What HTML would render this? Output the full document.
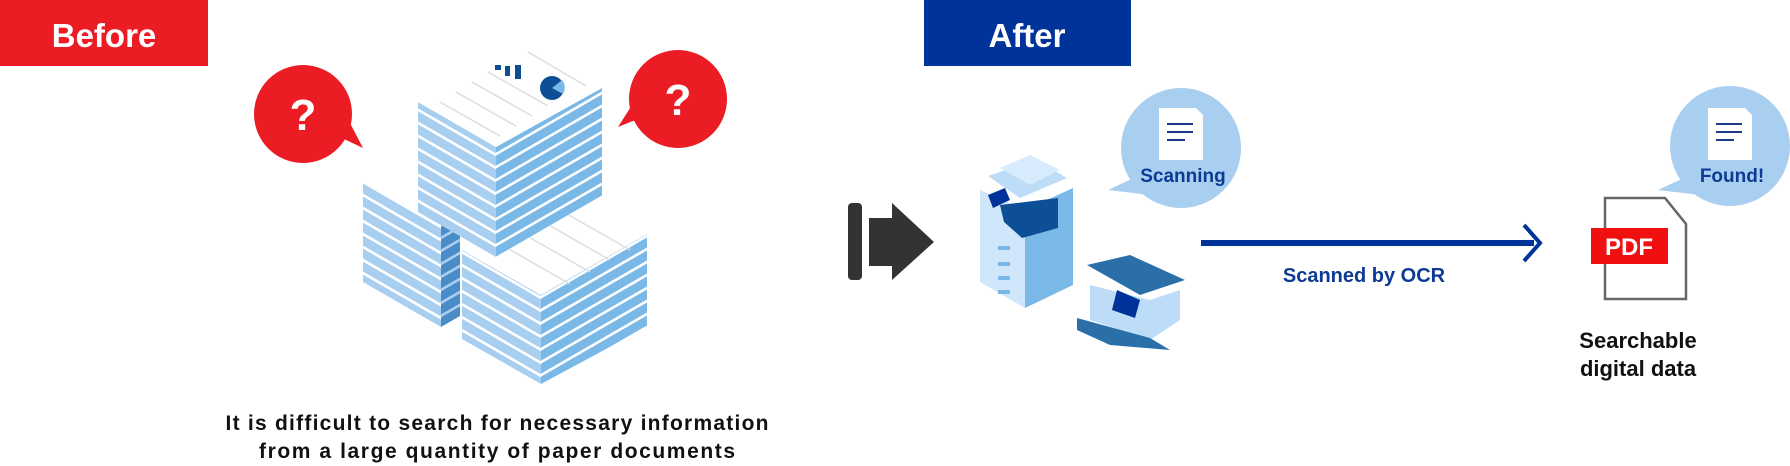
<!DOCTYPE html>
<html><head><meta charset="utf-8"><style>html,body{margin:0;padding:0;background:#fff}svg{display:block}text{font-family:"Liberation Sans",sans-serif;font-weight:bold}</style></head>
<body>
<svg width="1790" height="466" viewBox="0 0 1790 466" xmlns="http://www.w3.org/2000/svg">
<defs>
<pattern id="pl" patternUnits="userSpaceOnUse" width="20" height="13" patternTransform="skewY(30)"><rect width="20" height="13" fill="#a9cff0"/><rect y="10" width="20" height="3" fill="#fff"/></pattern>
<pattern id="pr" patternUnits="userSpaceOnUse" width="20" height="13" patternTransform="skewY(-30)"><rect width="20" height="13" fill="#7ab8e8"/><rect y="10" width="20" height="3" fill="#fff"/></pattern>
<pattern id="pd" patternUnits="userSpaceOnUse" width="20" height="13" patternTransform="skewY(-30)"><rect width="20" height="13" fill="#4a8cc8"/><rect y="10" width="20" height="3" fill="#a9cff0"/></pattern>
</defs>
<rect x="0" y="0" width="208" height="66" fill="#ec1c24"/>
<text x="104" y="47" font-size="33" fill="#fff" text-anchor="middle">Before</text>
<rect x="924" y="0" width="207" height="66" fill="#003399"/>
<text x="1027" y="47" font-size="33" fill="#fff" text-anchor="middle">After</text>

<!-- back-left stack -->
<polygon points="363,181 441,226 441,327 363,282" fill="url(#pl)"/>
<polygon points="441,226 460,215 460,316 441,327" fill="url(#pd)"/>
<polygon points="363,181 420,148 460,170 441,226" fill="#fff"/>
<!-- front-right stack -->
<polygon points="462,250 541,295 541,384 462,339" fill="url(#pl)"/>
<polygon points="541,295 647,234 647,327 541,384" fill="url(#pr)"/>
<polygon points="462,250 568,189 647,234 541,295" fill="#fff"/>
<g stroke="#ddd" stroke-width="1.5"><line x1="560" y1="210" x2="630" y2="250"/><line x1="540" y1="220" x2="610" y2="260"/><line x1="520" y1="232" x2="590" y2="272"/><line x1="500" y1="244" x2="570" y2="284"/></g>
<!-- top stack -->
<polygon points="418,102 496,147 496,257 418,212" fill="url(#pl)"/>
<polygon points="496,147 602,88 602,196 496,257" fill="url(#pr)"/>
<polygon points="418,102 524,43 602,88 496,147" fill="#fff"/>
<g stroke="#ddd" stroke-width="1.5"><line x1="440" y1="102" x2="500" y2="136"/><line x1="456" y1="92" x2="516" y2="126"/><line x1="472" y1="82" x2="532" y2="116"/><line x1="488" y1="72" x2="548" y2="106"/><line x1="528" y1="52" x2="586" y2="86"/></g>
<g fill="#0d4f96"><rect x="495" y="65" width="6" height="5"/><rect x="505" y="66" width="5" height="10"/><rect x="515" y="65" width="6" height="14"/><circle cx="552" cy="88" r="12"/></g>
<path d="M552 88 L562 80 A12 12 0 0 1 563 94 Z" fill="#7ab8e8"/>

<!-- red bubbles -->
<circle cx="303" cy="114" r="49" fill="#ec1c24"/>
<polygon points="325,130 363,148 338,100" fill="#ec1c24"/>
<text x="303" y="130" font-size="44" fill="#fff" text-anchor="middle">?</text>
<circle cx="678" cy="99" r="49" fill="#ec1c24"/>
<polygon points="660,110 618,127 648,80" fill="#ec1c24"/>
<text x="678" y="115" font-size="44" fill="#fff" text-anchor="middle">?</text>

<text x="497" y="430" font-size="21" fill="#111" text-anchor="middle" textLength="543">It is difficult to search for necessary information</text>
<text x="497" y="458" font-size="21" fill="#111" text-anchor="middle" textLength="476">from a large quantity of paper documents</text>

<!-- black arrow -->
<rect x="848" y="203" width="14" height="77" rx="4" fill="#333"/>
<rect x="869" y="218" width="26" height="48" fill="#333"/>
<polygon points="892,203 934,242 892,280" fill="#333"/>

<!-- copier -->
<polygon points="980,190 1025,210 1025,308 980,282" fill="#cfe6fb"/>
<polygon points="1025,210 1073,188 1073,285 1025,308" fill="#7ab8e8"/>
<polygon points="1000,205 1058,198 1058,228 1022,238 1004,222" fill="#0d4f96"/>
<polygon points="988,176 1035,160 1067,178 1020,198" fill="#bcdcf8"/>
<polygon points="1000,168 1030,155 1060,170 1030,185" fill="#d7ebfd"/>
<polygon points="988,195 1005,188 1010,200 993,208" fill="#003399"/>
<g fill="#7ab8e8"><rect x="998" y="246" width="12" height="4"/><rect x="998" y="262" width="12" height="4"/><rect x="998" y="276" width="12" height="4"/><rect x="998" y="290" width="12" height="4"/></g>
<!-- scanner -->
<polygon points="1087,265 1130,255 1185,280 1140,295" fill="#2a6fa8"/>
<polygon points="1090,285 1150,300 1180,290 1180,320 1150,340 1090,320" fill="#bcdcf8"/>
<polygon points="1117,290 1140,300 1135,318 1112,310" fill="#003399"/>
<polygon points="1077,318 1150,338 1170,350 1110,345 1077,330" fill="#2a6fa8"/>

<!-- scanning bubble -->
<circle cx="1181" cy="148" r="60" fill="#a9cff0"/>
<polygon points="1140,175 1108,190 1150,195" fill="#a9cff0"/>
<path d="M1159 108 H1196 L1203 115 V160 H1159 Z" fill="#fff"/>
<g stroke="#1b3a8c" stroke-width="2"><line x1="1167" y1="124" x2="1193" y2="124"/><line x1="1167" y1="132" x2="1193" y2="132"/><line x1="1167" y1="140" x2="1185" y2="140"/></g>
<text x="1183" y="182" font-size="19" fill="#0c3a94" text-anchor="middle">Scanning</text>

<!-- arrow line -->
<rect x="1201" y="240" width="333" height="6" fill="#003399"/>
<polyline points="1524,225 1540,243 1524,261" fill="none" stroke="#003399" stroke-width="4"/>
<text x="1364" y="282" font-size="20" fill="#0c3a94" text-anchor="middle">Scanned by OCR</text>

<!-- found bubble -->
<circle cx="1730" cy="146" r="60" fill="#a9cff0"/>
<polygon points="1690,175 1658,190 1700,195" fill="#a9cff0"/>
<path d="M1708 108 H1745 L1752 115 V160 H1708 Z" fill="#fff"/>
<g stroke="#1b3a8c" stroke-width="2"><line x1="1716" y1="124" x2="1742" y2="124"/><line x1="1716" y1="132" x2="1742" y2="132"/><line x1="1716" y1="140" x2="1734" y2="140"/></g>
<text x="1732" y="182" font-size="19" fill="#0c3a94" text-anchor="middle">Found!</text>

<!-- PDF doc -->
<path d="M1605 198 H1665 L1686 224 V299 H1605 Z" fill="#fff" stroke="#666" stroke-width="2.5"/>
<rect x="1591" y="228" width="77" height="36" fill="#f01010"/>
<text x="1629" y="255" font-size="24" fill="#fff" text-anchor="middle">PDF</text>
<text x="1638" y="348" font-size="22" fill="#111" text-anchor="middle">Searchable</text>
<text x="1638" y="376" font-size="22" fill="#111" text-anchor="middle">digital data</text>
</svg>
</body></html>
